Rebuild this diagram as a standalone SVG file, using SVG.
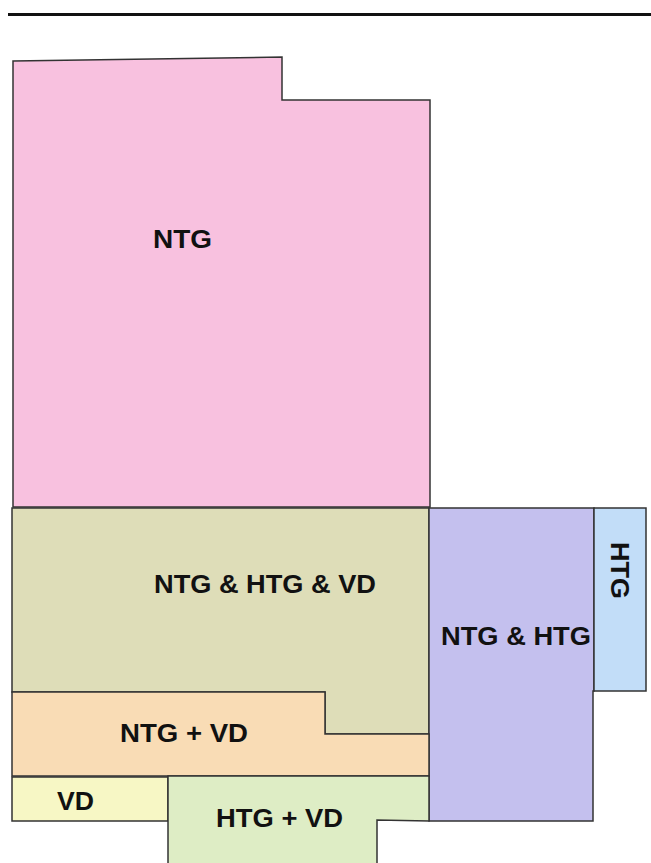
<svg xmlns="http://www.w3.org/2000/svg" width="651" height="863" viewBox="0 0 651 863">
<style>
.r{stroke:#333333;stroke-width:1.5;stroke-linejoin:miter}
.t{font-family:"Liberation Sans",Arial,sans-serif;font-weight:bold;font-size:26px;fill:#111}
</style>
<rect width="651" height="863" fill="#ffffff"/>
<line x1="8" y1="14.5" x2="651" y2="14.5" stroke="#111" stroke-width="3"/>
<g id="ntg">
<polygon class="r" fill="#F8C1DF" points="13,61 282,57 282,100 430,100 430,507 13,507"/>
<text class="t" x="153" y="248" textLength="59" lengthAdjust="spacingAndGlyphs">NTG</text>
</g>
<g id="ntg-htg-vd">
<polygon class="r" fill="#DEDDB8" points="12,508 429,508 429,734 325,734 325,692 12,692"/>
<text class="t" x="154" y="593" textLength="222" lengthAdjust="spacingAndGlyphs">NTG &amp; HTG &amp; VD</text>
</g>
<g id="ntg-htg">
<polygon class="r" fill="#C4C0EE" points="429,508 594,508 594,691 593,691 593,821 429,821"/>
<text class="t" x="441" y="645" textLength="150" lengthAdjust="spacingAndGlyphs">NTG &amp; HTG</text>
</g>
<g id="htg">
<polygon class="r" fill="#C2DDF8" points="594,508 646,508 646,691 594,691"/>
<text class="t" transform="translate(611,542) rotate(90)" x="0" y="0" textLength="57" lengthAdjust="spacingAndGlyphs">HTG</text>
</g>
<g id="ntg-vd">
<polygon class="r" fill="#F9DCB5" points="12,692 325,692 325,734 429,734 429,776 12,776"/>
<text class="t" x="120" y="742" textLength="128" lengthAdjust="spacingAndGlyphs">NTG + VD</text>
</g>
<g id="vd">
<polygon class="r" fill="#F7F7C5" points="12,777 168,777 168,821 12,821"/>
<text class="t" x="57" y="810" textLength="37" lengthAdjust="spacingAndGlyphs">VD</text>
</g>
<g id="htg-vd">
<polygon class="r" fill="#DEEDC5" points="168,776 429,776 429,821 377,820 377,864 168,864"/>
<text class="t" x="216" y="827" textLength="127" lengthAdjust="spacingAndGlyphs">HTG + VD</text>
</g>
<g id="connectors"></g>
</svg>
